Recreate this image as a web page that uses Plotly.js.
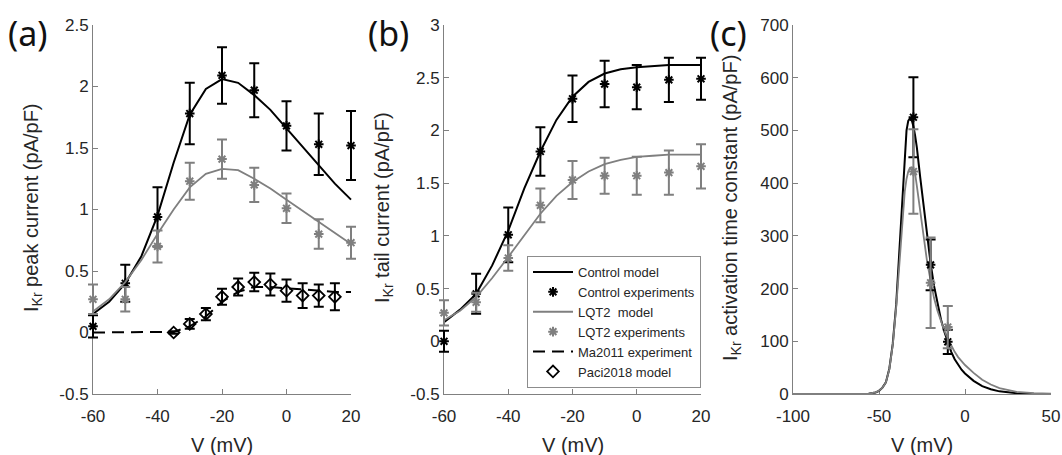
<!DOCTYPE html>
<html>
<head>
<meta charset="utf-8">
<script src="https://cdn.plot.ly/plotly-3.0.1.min.js"></script>
<style>html,body{margin:0;padding:0;background:#fff;}#chart{width:1062px;height:455px;}</style>
</head>
<body>
<div id="chart"></div>
<script>
// ---------- Panel (a): peak current ----------
const vExp = [-60, -50, -40, -30, -20, -10, 0, 10, 20];
const ctrlPeakExp = [0.05, 0.40, 0.94, 1.78, 2.09, 1.97, 1.68, 1.53, 1.52];
const ctrlPeakErr = [0.09, 0.15, 0.24, 0.25, 0.23, 0.22, 0.20, 0.25, 0.28];
const lqtPeakExp = [0.27, 0.27, 0.70, 1.23, 1.41, 1.20, 1.01, 0.80, 0.73];
const lqtPeakErr = [0.12, 0.10, 0.13, 0.15, 0.16, 0.14, 0.12, 0.12, 0.13];
const vModel = [-60, -55, -50, -45, -40, -35, -30, -25, -20, -15, -10, -5, 0, 5, 10, 15, 20];
const ctrlPeakModel = [0.15, 0.25, 0.40, 0.62, 0.95, 1.38, 1.77, 1.98, 2.06, 2.03, 1.93, 1.81, 1.66, 1.51, 1.36, 1.21, 1.08];
const lqtPeakModel = [0.17, 0.27, 0.41, 0.59, 0.80, 1.00, 1.18, 1.29, 1.33, 1.32, 1.25, 1.17, 1.08, 0.99, 0.90, 0.81, 0.72];
const maPeak = [0, 0, 0, 0, 0, 0.005, 0.05, 0.13, 0.25, 0.33, 0.37, 0.37, 0.36, 0.35, 0.34, 0.33, 0.33];
const vPaci = [-35, -30, -25, -20, -15, -10, -5, 0, 5, 10, 15];
const paciPeak = [0.0, 0.07, 0.15, 0.29, 0.37, 0.41, 0.39, 0.34, 0.30, 0.30, 0.29];
const paciErr = [0.01, 0.04, 0.05, 0.065, 0.07, 0.075, 0.09, 0.09, 0.10, 0.09, 0.11];

// ---------- Panel (b): tail current ----------
const ctrlTailExp = [0.0, 0.45, 1.01, 1.80, 2.30, 2.44, 2.41, 2.48, 2.49];
const ctrlTailErr = [0.10, 0.19, 0.26, 0.23, 0.22, 0.22, 0.21, 0.21, 0.20];
const lqtTailExp = [0.27, 0.37, 0.79, 1.29, 1.53, 1.57, 1.57, 1.60, 1.66];
const lqtTailErr = [0.12, 0.09, 0.12, 0.16, 0.18, 0.17, 0.18, 0.21, 0.21];
const ctrlTailModel = [0.18, 0.30, 0.45, 0.72, 1.05, 1.45, 1.80, 2.10, 2.32, 2.46, 2.54, 2.58, 2.60, 2.61, 2.62, 2.62, 2.62];
const lqtTailModel = [0.20, 0.29, 0.42, 0.60, 0.80, 1.01, 1.21, 1.38, 1.51, 1.61, 1.68, 1.72, 1.75, 1.76, 1.77, 1.77, 1.77];

// ---------- Panel (c): activation time constant ----------
const vTauExp = [-30, -20, -10];
const ctrlTauExp = [525, 245, 99];
const ctrlTauErr = [76, 48, 23];
const lqtTauExp = [422, 211, 127];
const lqtTauErr = [80, 86, 40];
const vTauModel = [-100, -60, -56, -52, -50, -48, -46, -44, -42, -40, -38, -36, -35, -34, -33, -32, -31, -30, -29, -28, -26, -24, -22, -20, -18, -16, -14, -12, -10, -8, -6, -4, -2, 0, 5, 10, 15, 20, 30, 40, 50];
const ctrlTauModel = [0, 0, 0.5, 3, 6, 12, 22, 48, 95, 170, 285, 400, 460, 500, 518, 523, 520, 508, 490, 468, 410, 355, 300, 248, 205, 170, 142, 118, 97, 80, 66, 55, 46, 39, 25, 15, 9, 5, 1.5, 0.4, 0.1];
const lqtTauModel = [0, 0, 0.5, 3, 6, 12, 22, 47, 93, 165, 260, 350, 385, 408, 422, 429, 430, 426, 418, 395, 345, 290, 250, 215, 182, 158, 138, 120, 105, 92, 80, 70, 62, 55, 40, 27, 18, 11, 4, 1.5, 0.5];

// tick labels and titles
const tickV_ab = [-60, -40, -20, 0, 20];
const tickV_abText = ['-60', '-40', '-20', '0', '20'];
const tickA = [-0.5, 0, 0.5, 1, 1.5, 2, 2.5];
const tickAText = ['-0.5', '0', '0.5', '1', '1.5', '2', '2.5'];
const tickB = [-0.5, 0, 0.5, 1, 1.5, 2, 2.5, 3];
const tickBText = ['-0.5', '0', '0.5', '1', '1.5', '2', '2.5', '3'];
const tickVc = [-100, -50, 0, 50];
const tickVcText = ['-100', '-50', '0', '50'];
const tickC = [0, 100, 200, 300, 400, 500, 600, 700];
const tickCText = ['0', '100', '200', '300', '400', '500', '600', '700'];
const xTitle = 'V (mV)';
const yTitles = ['I<sub>Kr</sub> peak current (pA/pF)', 'I<sub>Kr</sub> tail current (pA/pF)', 'I<sub>Kr</sub> activation time constant (pA/pF)'];
const panelLabels = ['(a)', '(b)', '(c)'];

const BLACK = '#000000';
const GRAY = '#7f7f7f';
const AXC = '#808080';
const TXT = '#262626';
const FONT = 'Liberation Sans, Arial, sans-serif';

function modelLine(x, y, color, width, name, xa, ya, show, dash) {
  return {x: x, y: y, type: 'scatter', mode: 'lines', name: name,
    line: {color: color, width: width, dash: dash || 'solid'},
    xaxis: xa, yaxis: ya, showlegend: show, cliponaxis: false};
}
function expPts(x, y, e, color, name, xa, ya, show, symbol, size, lw) {
  return {x: x, y: y, type: 'scatter', mode: 'markers', name: name,
    marker: {symbol: symbol || 'asterisk-open', size: size || 8, color: color,
      line: {color: color, width: lw || 2}},
    error_y: {type: 'data', array: e, visible: true, color: color, thickness: 2, width: 5},
    xaxis: xa, yaxis: ya, showlegend: show, cliponaxis: false};
}
function frame(xa, ya) {
  return {x: [], y: [], type: 'scatter', mode: 'markers', xaxis: xa, yaxis: ya,
    showlegend: false, hoverinfo: 'skip'};
}

// visible axes (x, x2, x3) carry the ticks; the data are drawn on hidden x axes
// (x4, x5, x6) that share the same scale but have a slightly wider clip box
const traces = [
  frame('x', 'y'), frame('x2', 'y2'), frame('x3', 'y3'),
  modelLine(vModel, ctrlPeakModel, BLACK, 2, 'Control model', 'x4', 'y', true),
  expPts(vExp, ctrlPeakExp, ctrlPeakErr, BLACK, 'Control experiments', 'x4', 'y', true),
  modelLine(vModel, lqtPeakModel, GRAY, 1.8, 'LQT2  model', 'x4', 'y', true),
  expPts(vExp, lqtPeakExp, lqtPeakErr, GRAY, 'LQT2 experiments', 'x4', 'y', true),
  modelLine(vModel, maPeak, BLACK, 2, 'Ma2011 experiment', 'x4', 'y', true, '12px,7px'),
  expPts(vPaci, paciPeak, paciErr, BLACK, 'Paci2018 model', 'x4', 'y', true, 'diamond-open', 9, 1.8),

  modelLine(vModel, ctrlTailModel, BLACK, 2, 'Control model', 'x5', 'y2', false),
  expPts(vExp, ctrlTailExp, ctrlTailErr, BLACK, 'Control experiments', 'x5', 'y2', false),
  modelLine(vModel, lqtTailModel, GRAY, 1.8, 'LQT2 model', 'x5', 'y2', false),
  expPts(vExp, lqtTailExp, lqtTailErr, GRAY, 'LQT2 experiments', 'x5', 'y2', false),

  modelLine(vTauModel, ctrlTauModel, BLACK, 2, 'Control model', 'x6', 'y3', false),
  modelLine(vTauModel, lqtTauModel, GRAY, 1.8, 'LQT2 model', 'x6', 'y3', false),
  expPts(vTauExp, ctrlTauExp, ctrlTauErr, BLACK, 'Control experiments', 'x6', 'y3', false),
  expPts(vTauExp, lqtTauExp, lqtTauErr, GRAY, 'LQT2 experiments', 'x6', 'y3', false)
];

const W = 1062, H = 455;
const yDom = [1 - 394 / H, 1 - 25 / H];
const axisLeft = [93, 444, 793];
const axisRight = [351, 701, 1051];
const xRanges = [[-60, 20], [-60, 20], [-100, 50]];
const PAD = 9;
function xAxis(i, tv, tt, anchor) {
  return {domain: [axisLeft[i] / W, axisRight[i] / W], range: xRanges[i], anchor: anchor,
    tickmode: 'array', tickvals: tv, ticktext: tt,
    ticks: 'inside', ticklen: 5, tickcolor: AXC, tickwidth: 1,
    showline: true, linecolor: AXC, linewidth: 1, mirror: false,
    showgrid: false, zeroline: false, ticklabelstandoff: 7,
    tickfont: {family: FONT, size: 17, color: TXT}};
}
function hiddenX(i, anchor) {
  const r = xRanges[i];
  const upp = (r[1] - r[0]) / (axisRight[i] - axisLeft[i]);
  return {domain: [(axisLeft[i] - PAD) / W, (axisRight[i] + PAD) / W],
    range: [r[0] - PAD * upp, r[1] + PAD * upp], anchor: anchor, visible: false,
    showgrid: false, zeroline: false};
}
function yAxis(range, tv, tt, anchor) {
  return {domain: yDom, range: range, anchor: anchor,
    tickmode: 'array', tickvals: tv, ticktext: tt,
    ticks: 'inside', ticklen: 5, tickcolor: AXC, tickwidth: 1,
    showline: true, linecolor: AXC, linewidth: 1, mirror: false,
    showgrid: false, zeroline: false,
    tickfont: {family: FONT, size: 17, color: TXT}};
}

const annotations = [];
const yTitleX = [33, 384, 732];
for (let i = 0; i < 3; i++) {
  annotations.push({text: xTitle, x: (axisLeft[i] + axisRight[i]) / 2 / W, y: 1 - 445 / H,
    xref: 'paper', yref: 'paper', xanchor: 'center', yanchor: 'middle', showarrow: false,
    font: {family: FONT, size: 20, color: TXT}});
  annotations.push({text: yTitles[i], x: yTitleX[i] / W, y: 1 - 208 / H, textangle: -90,
    xref: 'paper', yref: 'paper', xanchor: 'center', yanchor: 'middle', showarrow: false,
    font: {family: FONT, size: 20, color: TXT}});
}
const labelX = [6, 366, 708];
for (let i = 0; i < 3; i++) {
  annotations.push({text: panelLabels[i], x: labelX[i] / W, y: 1 - 8 / H,
    xref: 'paper', yref: 'paper', xanchor: 'left', yanchor: 'top', showarrow: false,
    font: {family: 'Noto Sans', size: 34, color: '#111'}});
}

const layout = {
  width: W, height: H,
  margin: {l: 0, r: 0, t: 0, b: 0},
  paper_bgcolor: '#fff', plot_bgcolor: 'rgba(0,0,0,0)',
  showlegend: true,
  legend: {x: 527 / W, y: 1 - 256 / H, xanchor: 'left', yanchor: 'top',
    bgcolor: '#fff', bordercolor: '#8c8c8c', borderwidth: 1,
    font: {family: FONT, size: 13, color: TXT}, itemwidth: 40, tracegroupgap: 0},
  xaxis: xAxis(0, tickV_ab, tickV_abText, 'y'),
  yaxis: yAxis([-0.5, 2.5], tickA, tickAText, 'x'),
  xaxis2: xAxis(1, tickV_ab, tickV_abText, 'y2'),
  yaxis2: yAxis([-0.5, 3], tickB, tickBText, 'x2'),
  xaxis3: xAxis(2, tickVc, tickVcText, 'y3'),
  yaxis3: yAxis([0, 700], tickC, tickCText, 'x3'),
  xaxis4: hiddenX(0, 'y'),
  xaxis5: hiddenX(1, 'y2'),
  xaxis6: hiddenX(2, 'y3'),
  annotations: annotations
};

Plotly.newPlot('chart', traces, layout, {displayModeBar: false, staticPlot: true});
</script>
</body>
</html>
